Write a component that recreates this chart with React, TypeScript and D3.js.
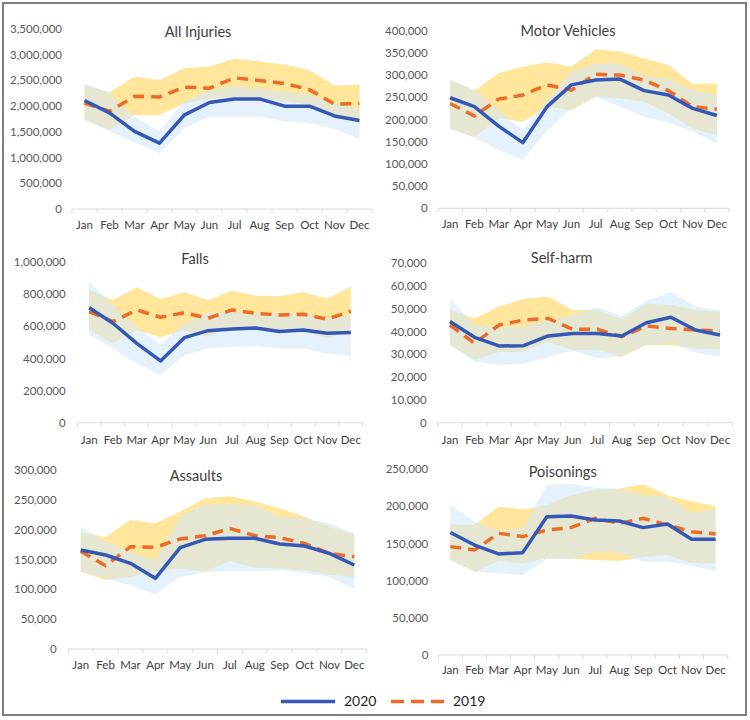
import React from "react";
import * as d3 from "d3";

const months = ["Jan", "Feb", "Mar", "Apr", "May", "Jun", "Jul", "Aug", "Sep", "Oct", "Nov", "Dec"];
const titles = ["All Injuries", "Motor Vehicles", "Falls", "Self-harm", "Assaults", "Poisonings"];
const yMaxes = [3500000, 400000, 1000000, 70000, 300000, 250000];
const ySteps = [500000, 50000, 200000, 10000, 50000, 50000];
const legendLabels = ["2020", "2019"];

// All Injuries
const allInj2020 = [2110000, 1870000, 1510000, 1280000, 1830000, 2070000, 2140000, 2140000, 2000000, 2000000, 1810000, 1720000];
const allInj2019 = [2060000, 1900000, 2190000, 2180000, 2370000, 2350000, 2550000, 2500000, 2440000, 2320000, 2040000, 2050000];
const allInjHi2020 = [2450000, 2260000, 1800000, 1510000, 2100000, 2320000, 2380000, 2350000, 2280000, 2220000, 2050000, 1950000];
const allInjLo2020 = [1720000, 1510000, 1300000, 1090000, 1570000, 1800000, 1800000, 1800000, 1700000, 1670000, 1550000, 1360000];
const allInjHi2019 = [2400000, 2270000, 2570000, 2510000, 2740000, 2770000, 2920000, 2870000, 2810000, 2700000, 2400000, 2420000];
const allInjLo2019 = [1750000, 1540000, 1830000, 1830000, 2050000, 2150000, 2180000, 2150000, 2100000, 2020000, 1750000, 1750000];

// Motor Vehicles
const mv2020 = [249000, 229000, 185000, 148000, 229000, 278000, 289000, 291000, 265000, 255000, 225000, 209000];
const mv2019 = [236000, 208000, 246000, 255000, 278000, 266000, 302000, 300000, 289000, 265000, 229000, 223000];
const mvHi2020 = [289000, 268000, 221000, 176000, 244000, 308000, 326000, 326000, 298000, 293000, 266000, 255000];
const mvLo2020 = [178000, 160000, 131000, 110000, 176000, 225000, 251000, 229000, 206000, 193000, 173000, 146000];
const mvHi2019 = [290000, 265000, 305000, 319000, 329000, 319000, 358000, 353000, 338000, 323000, 280000, 281000];
const mvLo2019 = [180000, 160000, 203000, 195000, 229000, 221000, 251000, 248000, 240000, 214000, 180000, 165000];

// Falls
const falls2020 = [717000, 620000, 495000, 385000, 530000, 574000, 584000, 590000, 568000, 578000, 557000, 563000];
const falls2019 = [692000, 630000, 703000, 657000, 686000, 651000, 703000, 682000, 672000, 676000, 645000, 696000];
const fallsHi2020 = [879000, 734000, 599000, 484000, 620000, 682000, 692000, 686000, 682000, 682000, 651000, 672000];
const fallsLo2020 = [547000, 464000, 370000, 297000, 422000, 464000, 474000, 478000, 464000, 464000, 432000, 416000];
const fallsHi2019 = [827000, 765000, 844000, 771000, 813000, 765000, 823000, 792000, 790000, 813000, 775000, 848000];
const fallsLo2019 = [578000, 495000, 578000, 532000, 578000, 536000, 599000, 578000, 578000, 568000, 526000, 578000];

// Self-harm
const sh2020 = [44400, 37500, 33700, 33800, 38100, 39200, 39200, 38100, 43900, 46300, 40700, 38500];
const sh2019 = [42900, 34900, 42900, 45100, 45800, 41000, 41000, 37800, 42500, 41400, 40700, 40300];
const shHi2020 = [54300, 42900, 42000, 42200, 45100, 47300, 50700, 46900, 53600, 57500, 51000, 49500];
const shLo2020 = [34100, 26800, 25500, 26000, 29000, 31600, 28300, 29300, 34100, 34900, 30800, 29000];
const shHi2019 = [49500, 45800, 51000, 54300, 55400, 49500, 49500, 45400, 52400, 51700, 49500, 48800];
const shLo2019 = [34100, 27800, 31000, 31200, 35600, 31900, 31900, 29000, 34100, 34100, 32700, 32200];

// Assaults
const as2020 = [166000, 157500, 143600, 118400, 169800, 183800, 185500, 185500, 176000, 172600, 160300, 140800];
const as2019 = [164000, 139700, 171500, 170400, 184400, 190000, 202000, 190000, 186600, 177000, 160300, 154700];
const asHi2020 = [205000, 180000, 163000, 149000, 221800, 242500, 242500, 241000, 221800, 219000, 210600, 193900];
const asLo2020 = [129600, 118400, 107000, 91600, 121000, 128500, 130700, 130700, 132000, 126800, 121000, 100600];
const asHi2019 = [195000, 188000, 216000, 210600, 230000, 252500, 256000, 247000, 235800, 221800, 205000, 191000];
const asLo2019 = [129600, 115600, 121000, 130000, 135000, 129600, 147500, 136000, 135000, 132000, 124000, 121000];

// Poisonings
const po2020 = [165000, 148000, 136000, 137800, 186000, 187000, 181800, 180400, 171500, 176400, 155700, 155700];
const po2019 = [145900, 141400, 163800, 159300, 168300, 171500, 184000, 177300, 184000, 175000, 166000, 163000];
const poHi2020 = [202000, 179500, 167000, 170600, 229000, 231000, 225000, 224000, 215000, 213000, 190800, 197500];
const poLo2020 = [128000, 112000, 110000, 107700, 130000, 129000, 139000, 137000, 125700, 125700, 120000, 113000];
const poHi2019 = [176400, 175000, 199700, 196000, 202000, 215000, 222000, 224000, 230000, 215000, 206500, 201000];
const poLo2019 = [128000, 112000, 126600, 123400, 130000, 130000, 128000, 126600, 132000, 134600, 123400, 123400];

const series2020 = [allInj2020, mv2020, falls2020, sh2020, as2020, po2020];
const series2019 = [allInj2019, mv2019, falls2019, sh2019, as2019, po2019];
const hi2020 = [allInjHi2020, mvHi2020, fallsHi2020, shHi2020, asHi2020, poHi2020];
const lo2020 = [allInjLo2020, mvLo2020, fallsLo2020, shLo2020, asLo2020, poLo2020];
const hi2019 = [allInjHi2019, mvHi2019, fallsHi2019, shHi2019, asHi2019, poHi2019];
const lo2019 = [allInjLo2019, mvLo2019, fallsLo2019, shLo2019, asLo2019, poLo2019];

// layout (pixel positions of each panel)
const layouts = [
  { x0: 72, x1: 372, yTop: 29, yBot: 209, labelRight: 62, titleX: 198, titleY: 32, monthY: 225 },
  { x0: 438, x1: 729, yTop: 30.7, yBot: 208.3, labelRight: 427.7, titleX: 568, titleY: 31, monthY: 224 },
  { x0: 77.3, x1: 362.7, yTop: 262.3, yBot: 422.7, labelRight: 65.7, titleX: 195, titleY: 259, monthY: 439.5 },
  { x0: 437.7, x1: 732.3, yTop: 263.3, yBot: 422.7, labelRight: 426.7, titleX: 561.7, titleY: 257.7, monthY: 439.5 },
  { x0: 68.3, x1: 366.7, yTop: 470, yBot: 649, labelRight: 56.7, titleX: 196, titleY: 475.7, monthY: 665 },
  { x0: 438.3, x1: 727.7, yTop: 469.3, yBot: 655, labelRight: 428.3, titleX: 562.7, titleY: 472.3, monthY: 670 },
];

const FONT = "Lato, 'Open Sans', sans-serif";
const BLUE = "#3558B7";
const ORANGE = "#EC6C27";
const YELLOW_BAND = "#FFE69A";
const BLUE_BAND = "#D3E8F8";

const fmt = d3.format(",");

function Panel({ i }: { i: number }) {
  const L = layouts[i];
  const x = d3.scaleBand<string>().domain(months).range([L.x0, L.x1]).padding(0);
  const y = d3.scaleLinear().domain([0, yMaxes[i]]).range([L.yBot, L.yTop]);
  const cx = (m: string) => (x(m) as number) + x.bandwidth() / 2;
  const ticks = d3.range(0, yMaxes[i] + 1, ySteps[i]);

  const band = (hi: number[], lo: number[]) =>
    d3
      .area<number>()
      .x((_, k) => cx(months[k]))
      .y0((_, k) => y(lo[k]))
      .y1((_, k) => y(hi[k]))(months.map((_, k) => k)) as string;

  const line = (vals: number[]) =>
    d3
      .line<number>()
      .x((_, k) => cx(months[k]))
      .y((v) => y(v))(vals) as string;

  const boundaries = months.map((m) => x(m) as number).concat([L.x1]);

  return (
    <g>
      <path d={band(hi2019[i], lo2019[i])} fill={YELLOW_BAND} />
      <path d={band(hi2020[i], lo2020[i])} fill={BLUE_BAND} fillOpacity={0.6} />
      <line x1={L.x0} x2={L.x1} y1={L.yBot} y2={L.yBot} stroke="#d9d9d9" strokeWidth={1} />
      {boundaries.map((b, k) => (
        <line key={k} x1={b} x2={b} y1={L.yBot} y2={L.yBot + 4} stroke="#d9d9d9" strokeWidth={1} />
      ))}
      <path d={line(series2019[i])} fill="none" stroke={ORANGE} strokeWidth={3.5} strokeDasharray="11,7" />
      <path d={line(series2020[i])} fill="none" stroke={BLUE} strokeWidth={3.5} strokeLinejoin="round" />
      {ticks.map((t) => (
        <text key={t} x={L.labelRight} y={y(t)} dy="0.35em" textAnchor="end" fontSize={11.5} fill="#595959" fontFamily={FONT}>
          {fmt(t)}
        </text>
      ))}
      {months.map((m) => (
        <text key={m} x={cx(m)} y={L.monthY} dy="0.35em" textAnchor="middle" fontSize={11.5} fill="#404040" fontFamily={FONT}>
          {m}
        </text>
      ))}
      <text x={L.titleX} y={L.titleY} dy="0.35em" textAnchor="middle" fontSize={14.5} fill="#404040" fontFamily={FONT}>
        {titles[i]}
      </text>
    </g>
  );
}

export default function App() {
  return (
    <svg width={750} height={720} style={{ position: "absolute", left: 0, top: 0, background: "#fff" }}>
      <rect x={0} y={0} width={750} height={720} fill="#fff" />
      <rect x={3} y={3} width={743} height={712} fill="none" stroke="#7f7f7f" strokeWidth={2} />
      {titles.map((_, i) => (
        <Panel key={i} i={i} />
      ))}
      <g>
        <line x1={281} x2={335} y1={701.5} y2={701.5} stroke={BLUE} strokeWidth={3.5} />
        <text x={344} y={701.5} dy="0.35em" fontSize={14} fill="#262626" fontFamily={FONT}>
          {legendLabels[0]}
        </text>
        <line x1={391} x2={444} y1={701.5} y2={701.5} stroke={ORANGE} strokeWidth={3.5} strokeDasharray="13,7" />
        <text x={453} y={701.5} dy="0.35em" fontSize={14} fill="#262626" fontFamily={FONT}>
          {legendLabels[1]}
        </text>
      </g>
    </svg>
  );
}
